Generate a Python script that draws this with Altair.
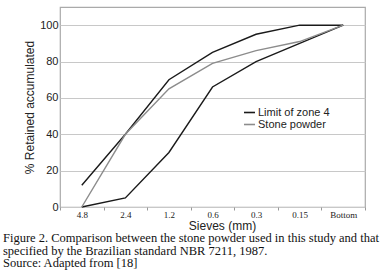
import altair as alt
import pandas as pd

sieves = ["4.8", "2.4", "1.2", "0.6", "0.3", "0.15", "Bottom"]
upper_limit = [12, 40, 70, 85, 95, 100, 100]
lower_limit = [0, 5, 30, 66, 80, 90, 100]
stone_powder = [0, 40, 65, 79, 86, 91, 100]

rows = []
for s, v in zip(sieves, upper_limit):
    rows.append({"sieve": s, "value": v, "series": "Limit of zone 4", "line": "upper"})
for s, v in zip(sieves, lower_limit):
    rows.append({"sieve": s, "value": v, "series": "Limit of zone 4", "line": "lower"})
for s, v in zip(sieves, stone_powder):
    rows.append({"sieve": s, "value": v, "series": "Stone powder", "line": "stone"})
df = pd.DataFrame(rows)

caption = [
    "Figure 2. Comparison between the stone powder used in this study and that",
    "specified by the Brazilian standard NBR 7211, 1987.",
    "Source: Adapted from [18]",
]

chart = alt.Chart(df).mark_line(strokeWidth=1.4).encode(
    x=alt.X("sieve:N", sort=sieves, bandPosition=0.5,
            scale=alt.Scale(type="band", paddingInner=0, paddingOuter=0),
            axis=alt.Axis(title="Sieves (mm)", labelAngle=0, tickBand="extent",
                          domain=False, grid=False, tickSize=3, tickColor="#999",
                          labelFont="Liberation Sans Narrow", labelFontSize=9,
                          labelColor="#222", labelPadding=0,
                          titleFont="Liberation Sans", titleFontSize=12,
                          titleFontWeight="normal", titleColor="#222",
                          titleX=162, titlePadding=1)),
    y=alt.Y("value:Q", scale=alt.Scale(domain=[0, 110], nice=False),
            axis=alt.Axis(title="% Retained accumulated", values=[0, 20, 40, 60, 80, 100],
                          domain=False, ticks=False, gridColor="#c8c8c8",
                          labelFont="Liberation Sans", labelFontSize=11,
                          labelColor="#222", labelPadding=2,
                          titleFont="Liberation Sans", titleFontSize=12,
                          titleFontWeight="normal", titleColor="#222",
                          titlePadding=3)),
    color=alt.Color("series:N",
                    scale=alt.Scale(domain=["Limit of zone 4", "Stone powder"],
                                    range=["#1a1a1a", "#8c8c8c"]),
                    legend=alt.Legend(title=None, orient="none", legendX=183, legendY=99,
                                      symbolType="stroke", symbolSize=120,
                                      symbolStrokeWidth=1.6,
                                      labelFont="Liberation Sans", labelFontSize=11,
                                      labelColor="#222", rowPadding=0,
                                      labelOffset=2)),
    detail="line:N",
).properties(
    width=305,
    height=200,
    autosize=alt.AutoSizeParams(type="none"),
    padding={"left": 60, "top": 7, "right": 17, "bottom": 65},
    title=alt.TitleParams(text=caption, orient="bottom", anchor="start", frame="group",
                          font="Liberation Serif", fontSize=12.5, fontWeight="normal",
                          color="#111", dx=-57, offset=1, lineHeight=12.5),
).configure_view(stroke="#aaaaaa", strokeWidth=1.2)

chart.save("out.html", embed_options={"renderer": "svg", "actions": False})
